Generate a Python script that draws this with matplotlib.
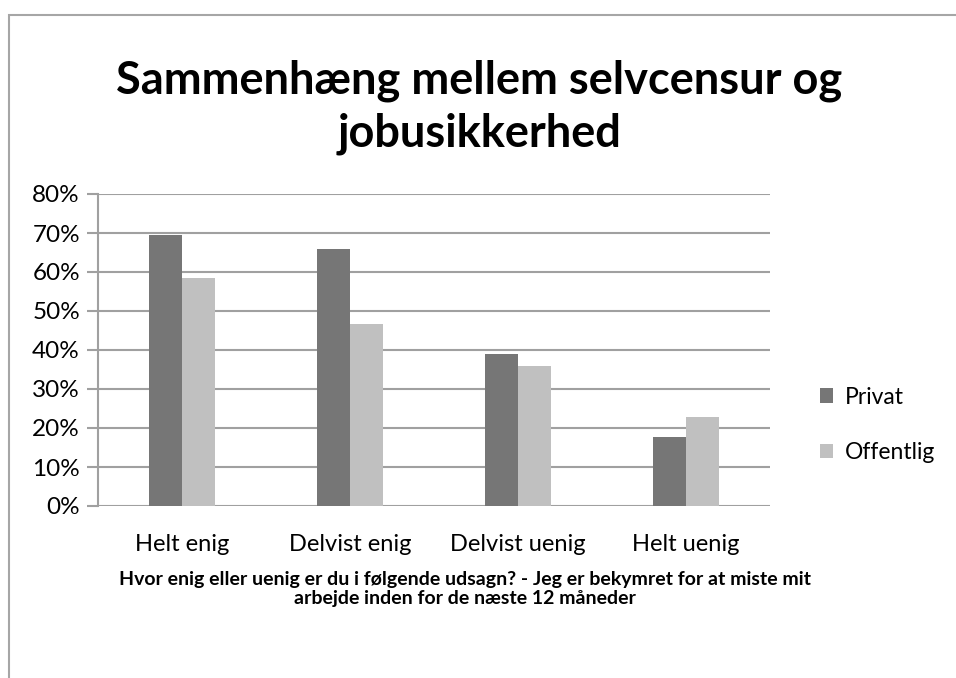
import numpy as np
import matplotlib.pyplot as plt
from matplotlib.patches import Rectangle
from matplotlib.ticker import PercentFormatter

categories = ['Helt enig', 'Delvist enig', 'Delvist uenig', 'Helt uenig']
privat = [69.5, 66.0, 39.0, 17.7]
offentlig = [58.5, 46.7, 35.8, 22.8]
series_names = ['Privat', 'Offentlig']

plt.rcParams['font.family'] = ['Lato', 'DejaVu Sans']

fig = plt.figure(figsize=(9.56, 6.78), dpi=100)
# chart border (cut off at right/bottom like the screenshot)
fig.patches.append(Rectangle((9 / 956, -0.05), 1.0, 1 - 15 / 678 + 0.05,
                             transform=fig.transFigure, fill=False,
                             edgecolor='#a6a6a6', linewidth=1.5))

ax = fig.add_axes([98 / 956, 1 - 506 / 678, 672 / 956, 312 / 678])
x = np.arange(len(categories))
w = 0.196
ax.bar(x - w / 2, privat, width=w, color='#767676', label=series_names[0], zorder=3)
ax.bar(x + w / 2, offentlig, width=w, color='#c0c0c0', label=series_names[1], zorder=3)

ax.set_xlim(-0.5, len(categories) - 0.5)
ax.set_ylim(0, 80)
ax.set_yticks(np.arange(0, 81, 10))
ax.yaxis.set_major_formatter(PercentFormatter(decimals=0))
ax.set_xticks(x)
ax.set_xticklabels(categories, fontsize=17)
ax.tick_params(axis='y', labelsize=17.5, length=8, color='#a0a0a0', width=1.5, pad=5)
ax.tick_params(axis='x', length=0, pad=20)
ax.grid(axis='y', color='#a0a0a0', linewidth=1.5, zorder=0)
for s in ['top', 'right', 'bottom']:
    ax.spines[s].set_visible(False)
ax.spines['left'].set_color('#a0a0a0')
ax.spines['left'].set_linewidth(1.5)

fig.text(465 / 956, 1 - 589 / 678,
         'Hvor enig eller uenig er du i følgende udsagn? - Jeg er bekymret for at miste mit\n'
         'arbejde inden for de næste 12 måneder', ha='center', va='center',
         fontsize=14, fontweight='bold', linespacing=1.1)

fig.text(479 / 956, 1 - 107 / 678, 'Sammenhæng mellem selvcensur og\njobusikkerhed',
         ha='center', va='center', fontsize=32.5, fontweight='bold', linespacing=1.32)

fig.legend(loc='center left', bbox_to_anchor=(799 / 956, 1 - 425 / 678), frameon=False,
           fontsize=16.5, handlelength=0.6, handleheight=0.6, handletextpad=0.5,
           labelspacing=1.5)

fig.savefig('out.png', dpi=100)
